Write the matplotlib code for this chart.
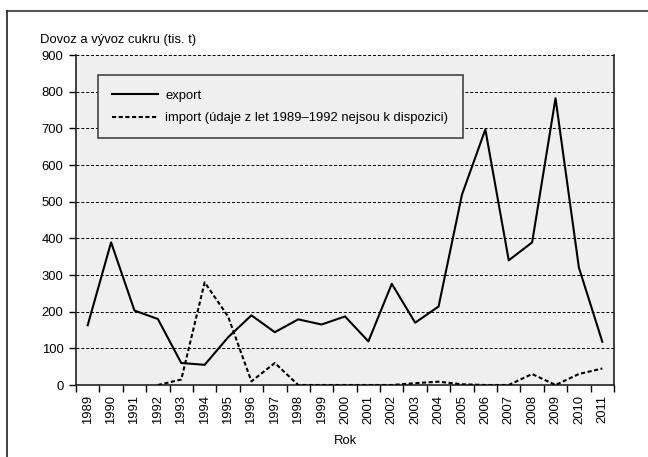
import matplotlib
matplotlib.use("Agg")
import matplotlib.pyplot as plt
from matplotlib.lines import Line2D
import numpy as np

years = [str(y) for y in range(1989, 2012)]
export = [163, 389, 203, 180, 60, 55, 130, 190, 144, 179, 165, 187, 119, 276, 170, 214, 519, 697, 340, 389, 782, 320, 118]
imports = [np.nan, np.nan, np.nan, 0, 15, 280, 187, 10, 60, 0, 0, 0, 0, 0, 5, 9, 2, 0, 0, 30, 0, 30, 45]
yticks = list(range(0, 1000, 100))

plt.rcParams['font.family'] = ['Liberation Sans', 'DejaVu Sans']
FS = 9.4

fig = plt.figure(figsize=(6.48, 4.57), dpi=100)
ax = fig.add_axes([76/648, 1-385/457, (614-76)/648, (385-55)/457])
ax.set_facecolor('#eeefee')

x = np.arange(len(years))
ax.plot(x, export, color='black', lw=1.5, label='export', zorder=3)
ax.plot(x, imports, color='black', lw=1.5, linestyle=(0, (2.0, 1.2)),
        label='import (údaje z let 1989–1992 nejsou k dispozici)', zorder=3)

ax.set_xlim(-0.5, len(years) - 0.5)
ax.set_ylim(0, 900)
ax.set_yticks(yticks)
ax.set_yticklabels([str(v) for v in yticks], fontsize=FS)
ax.set_xticks(np.arange(-0.5, len(years), 1.0))
ax.set_xticklabels([])
ax.set_xticks(x, minor=True)
ax.set_xticklabels(years, minor=True, rotation=90, fontsize=FS)
ax.tick_params(axis='x', which='major', length=5, width=1, direction='out')
ax.tick_params(axis='x', which='minor', length=0, pad=7)
ax.tick_params(axis='y', length=5, width=1, direction='out', pad=4)

ax.grid(axis='y', color='black', linestyle=(0, (3, 2)), lw=0.7, zorder=1)
ax.spines['top'].set_visible(False)
for s in ['left', 'bottom', 'right']:
    ax.spines[s].set_linewidth(1.2)
    ax.spines[s].set_color('#222222')

leg = ax.legend(loc='upper left', bbox_to_anchor=((98-76)/538, (385-75)/330),
                frameon=True, fancybox=False, fontsize=FS, handlelength=3.5,
                handletextpad=0.55, borderpad=1.1, labelspacing=0.8, borderaxespad=0)
leg.get_frame().set_facecolor('#eeefee')
leg.get_frame().set_edgecolor('#444444')
leg.get_frame().set_linewidth(1.2)
leg.get_frame().set_alpha(1)

fig.text(40/648, 1-40/457, 'Dovoz a vývoz cukru (tis. t)', fontsize=FS, ha='left', va='center')
fig.text(345/648, 1-441/457, 'Rok', fontsize=FS, ha='center', va='center')

fig.add_artist(Line2D([7/648, 1], [1-10.5/457, 1-10.5/457], color='#555555', lw=1.5))
fig.add_artist(Line2D([7/648, 7/648], [0, 1-10.5/457], color='#222222', lw=1.2))

fig.savefig('out.png', dpi=100)
